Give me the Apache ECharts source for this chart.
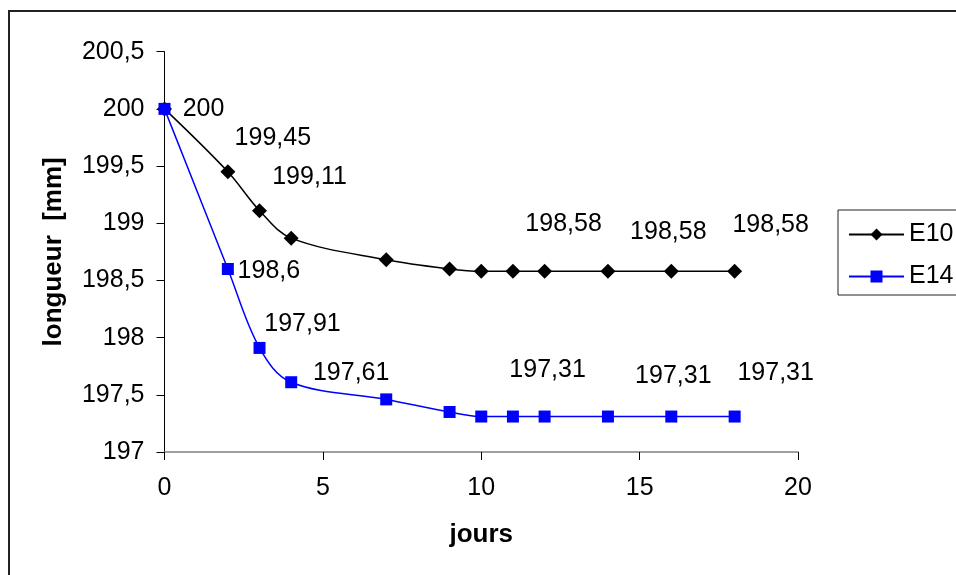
<!DOCTYPE html>
<html>
<head>
<meta charset="utf-8">
<title>longueur – E10 / E14</title>
<script src="https://cdn.jsdelivr.net/npm/echarts@6/dist/echarts.min.js"></script>
<style>
  html, body { margin: 0; padding: 0; background: #fff; }
  #chart { width: 956px; height: 575px; }
</style>
</head>
<body>
<div id="chart"></div>
<script>
// Days of measurement (shared by both specimens)
const jours = [0, 2, 3, 4, 7, 9, 10, 11, 12, 14, 16, 18];

// Length in mm
const e10 = [200, 199.45, 199.11, 198.87, 198.68, 198.60, 198.58, 198.58, 198.58, 198.58, 198.58, 198.58];
const e14 = [200, 198.6, 197.91, 197.61, 197.46, 197.35, 197.31, 197.31, 197.31, 197.31, 197.31, 197.31];

const seriesNames = ['E10', 'E14'];

// Axis ranges
const xMin = 0, xMax = 20, xStep = 5;
const yMin = 197, yMax = 200.5, yStep = 0.5;

// Which points carry a value label, with the label's pixel offset from the marker
const e10LabelOffsets = { 0: [39, 0], 1: [45, -34], 2: [50, -34], 8: [19, -47], 10: [-3, -39], 11: [36, -46] };
const e14LabelOffsets = { 1: [41, 2], 2: [43, -24], 3: [60, -9], 8: [3, -46], 10: [2, -40], 11: [41, -43] };

const FONT = 'Liberation Sans, Arial, sans-serif';
const FS = 25;
const FS_TITLE = 26;

const fmt = v => String(v).replace('.', ',');

function buildData(values, offsets) {
  return jours.map((x, i) => {
    const item = { value: [x, values[i]] };
    if (offsets[i]) {
      item.label = {
        show: true,
        position: 'inside',
        offset: offsets[i],
        align: 'center',
        verticalAlign: 'middle',
        formatter: () => fmt(values[i]),
        color: '#000',
        fontFamily: FONT,
        fontSize: FS
      };
    }
    return item;
  });
}

const chart = echarts.init(document.getElementById('chart'), null, { renderer: 'canvas' });

chart.setOption({
  animation: false,
  backgroundColor: '#fff',
  graphic: [{
    type: 'rect',
    shape: { x: 9, y: 11, width: 1200, height: 900 },
    style: { fill: 'none', stroke: '#222', lineWidth: 2 },
    silent: true,
    z: -10
  }],
  grid: { left: 164.5, right: 158, top: 51.7, bottom: 123, containLabel: false },
  legend: {
    left: 838,
    top: 210,
    orient: 'vertical',
    padding: [12, 60, 6, 10],
    itemWidth: 55,
    itemHeight: 15,
    itemGap: 17,
    borderColor: '#222',
    borderWidth: 1,
    backgroundColor: '#fff',
    textStyle: { fontFamily: FONT, fontSize: FS, color: '#000', lineHeight: 25 },
    data: seriesNames
  },
  xAxis: {
    type: 'value',
    min: xMin, max: xMax, interval: xStep,
    name: 'jours',
    nameLocation: 'middle',
    nameGap: 70,
    nameTextStyle: { fontFamily: FONT, fontSize: FS_TITLE, fontWeight: 'bold', color: '#000' },
    axisLine: { show: true, lineStyle: { color: '#808080', width: 1.5 } },
    axisTick: { show: true, inside: false, length: 8, lineStyle: { color: '#000', width: 1 } },
    axisLabel: { margin: 24, fontFamily: FONT, fontSize: FS, color: '#000' },
    splitLine: { show: false }
  },
  yAxis: {
    type: 'value',
    min: yMin, max: yMax, interval: yStep,
    name: 'longueur  [mm]',
    nameLocation: 'middle',
    nameGap: 98,
    nameTextStyle: { fontFamily: FONT, fontSize: FS_TITLE, fontWeight: 'bold', color: '#000' },
    axisLine: { show: true, lineStyle: { color: '#000', width: 1 } },
    axisTick: { show: true, inside: false, length: 8, lineStyle: { color: '#000', width: 1 } },
    axisLabel: { margin: 20, fontFamily: FONT, fontSize: FS, color: '#000', formatter: v => fmt(v) },
    splitLine: { show: false }
  },
  series: [
    {
      name: 'E10',
      type: 'line',
      data: buildData(e10, e10LabelOffsets),
      smooth: 0.35,
      symbol: 'diamond',
      symbolSize: 15,
      itemStyle: { color: '#000' },
      lineStyle: { color: '#000', width: 1.5 },
      z: 2
    },
    {
      name: 'E14',
      type: 'line',
      data: buildData(e14, e14LabelOffsets),
      smooth: 0.35,
      symbol: 'rect',
      symbolSize: 12,
      itemStyle: { color: '#0000ff' },
      lineStyle: { color: '#0000ff', width: 1.5 },
      z: 3
    }
  ]
});
</script>
</body>
</html>
